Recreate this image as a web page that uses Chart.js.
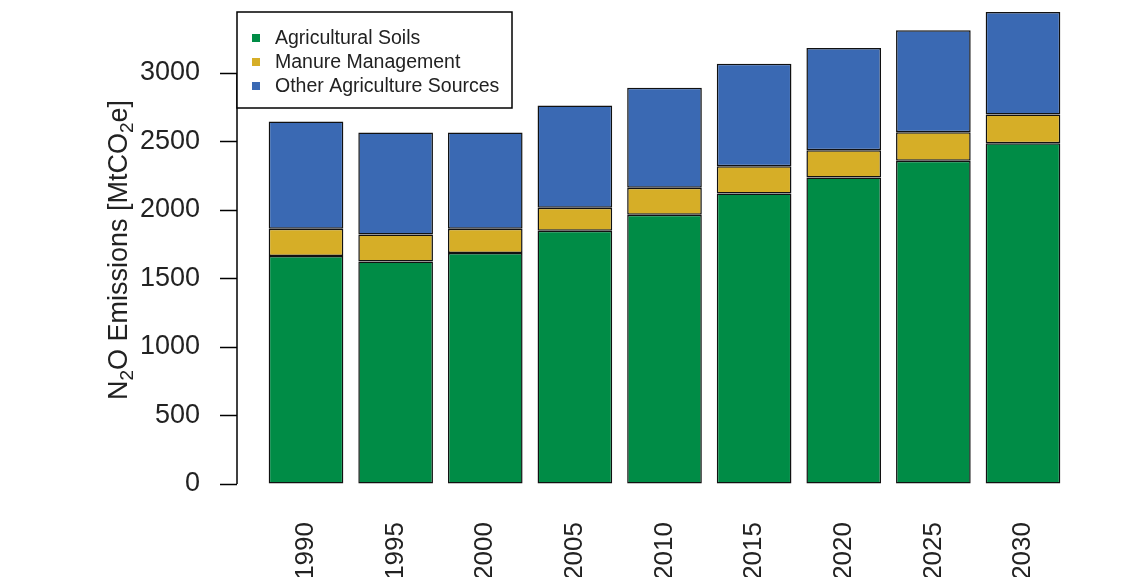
<!DOCTYPE html>
<html lang="en">
  <head>
    <meta charset="UTF-8">
    <title>N2O Emissions</title>
    <script src="https://cdn.jsdelivr.net/npm/chart.js@4.4.6/dist/chart.umd.min.js"></script>
    <style>
      html, body { margin: 0; padding: 0; background: #fff; }
      #wrap { width: 1143px; height: 577px; position: relative; }
    </style>
  </head>
  <body>
    <div id="wrap"><canvas id="chart"></canvas></div>
    <script>
      // years on the x axis
      const years = [1990, 1995, 2000, 2005, 2010, 2015, 2020, 2025, 2030];
      // values, MtCO2e
      const agriculturalSoils = [1665, 1624, 1687, 1848, 1965, 2121, 2237, 2359, 2488];
      const manureManagement = [198, 197, 176, 168, 197, 199, 200, 209, 210];
      const otherSources = [784, 745, 703, 747, 731, 748, 745, 745, 747];
      const yTicks = [0, 500, 1000, 1500, 2000, 2500, 3000];

      const FONT = "'Liberation Sans', Arial, sans-serif";
      const toPoints = (vals) => vals.map((v, i) => ({ x: years[i], y: v }));

      // y axis line only spans the tick range, like R
      const axisLine = {
        id: "axisLine",
        afterDraw(chart) {
          const { ctx, chartArea, scales } = chart;
          ctx.save();
          ctx.strokeStyle = "#000";
          ctx.lineWidth = 1.5;
          ctx.beginPath();
          ctx.moveTo(chartArea.left, scales.y.getPixelForValue(yTicks[0]));
          ctx.lineTo(chartArea.left, scales.y.getPixelForValue(yTicks[yTicks.length - 1]));
          ctx.stroke();
          ctx.restore();
        }
      };

      // axis title with subscripts
      const yTitle = {
        id: "yTitle",
        afterDraw(chart) {
          const ctx = chart.ctx;
          const parts = [["N", 0], ["2", 1], ["O Emissions [MtCO", 0], ["2", 1], ["e]", 0]];
          const big = "27px " + FONT, small = "19px " + FONT;
          ctx.save();
          let total = 0;
          parts.forEach(([t, s]) => { ctx.font = s ? small : big; total += ctx.measureText(t).width; });
          ctx.translate(127, 250);
          ctx.rotate(-Math.PI / 2);
          ctx.fillStyle = "#222";
          ctx.textBaseline = "alphabetic";
          let x = -total / 2;
          parts.forEach(([t, s]) => {
            ctx.font = s ? small : big;
            ctx.fillText(t, x, s ? 6 : 0);
            x += ctx.measureText(t).width;
          });
          ctx.restore();
        }
      };

      // boxed legend in the top left corner
      const boxLegend = {
        id: "boxLegend",
        afterDraw(chart) {
          const ctx = chart.ctx;
          const x0 = chart.chartArea.left, y0 = 12, w = 275, h = 96;
          ctx.save();
          ctx.fillStyle = "#fff";
          ctx.fillRect(x0, y0, w, h);
          ctx.strokeStyle = "#000";
          ctx.lineWidth = 1.5;
          ctx.strokeRect(x0, y0, w, h);
          ctx.font = "19.5px " + FONT;
          ctx.textBaseline = "middle";
          chart.data.datasets.forEach((ds, i) => {
            const cy = y0 + 26 + i * 24;
            ctx.fillStyle = ds.backgroundColor;
            ctx.fillRect(x0 + 15, cy - 4, 8, 8);
            ctx.fillStyle = "#222";
            ctx.fillText(ds.label, x0 + 38, cy + 1);
          });
          ctx.restore();
        }
      };

      const bar = (label, data, color) => ({
        label,
        data: toPoints(data),
        backgroundColor: color,
        borderColor: "#111",
        borderWidth: 1.5,
        borderSkipped: false,
        barPercentage: 0.833,
        categoryPercentage: 1,
        clip: false
      });

      new Chart(document.getElementById("chart"), {
        type: "bar",
        data: {
          datasets: [
            bar("Agricultural Soils", agriculturalSoils, "#008C46"),
            bar("Manure Management", manureManagement, "#D6AE27"),
            bar("Other Agriculture Sources", otherSources, "#3A69B3")
          ]
        },
        options: {
          responsive: true,
          maintainAspectRatio: false,
          animation: false,
          devicePixelRatio: 1,
          layout: { padding: { left: 0, right: 51, top: 0, bottom: 0 } },
          plugins: { legend: { display: false }, tooltip: { enabled: false } },
          scales: {
            x: {
              type: "linear",
              stacked: true,
              offset: false,
              min: 1986.15,
              max: 2033.85,
              afterBuildTicks(scale) { scale.ticks = years.map((v) => ({ value: v })); },
              afterFit(scale) {
                scale.height = 93;
                scale.paddingLeft = 0;
                scale.paddingRight = 0;
              },
              grid: { display: false, offset: false },
              border: { display: false },
              ticks: {
                minRotation: 90,
                maxRotation: 90,
                padding: 30,
                autoSkip: false,
                color: "#222",
                font: { family: FONT, size: 26 },
                callback: (v) => String(v)
              }
            },
            y: {
              stacked: true,
              min: 0,
              max: 3533,
              afterBuildTicks(scale) { scale.ticks = yTicks.map((v) => ({ value: v })); },
              afterFit(scale) {
                scale.width = 237;
                scale.paddingTop = 0;
                scale.paddingBottom = 0;
              },
              grid: {
                drawOnChartArea: false,
                drawTicks: true,
                tickLength: 17,
                tickWidth: 1.5,
                tickColor: "#000"
              },
              border: { display: false },
              ticks: {
                padding: 20,
                color: "#222",
                font: { family: FONT, size: 27 },
                callback: (v) => String(v)
              }
            }
          }
        },
        plugins: [axisLine, yTitle, boxLegend]
      });
    </script>
  </body>
</html>
